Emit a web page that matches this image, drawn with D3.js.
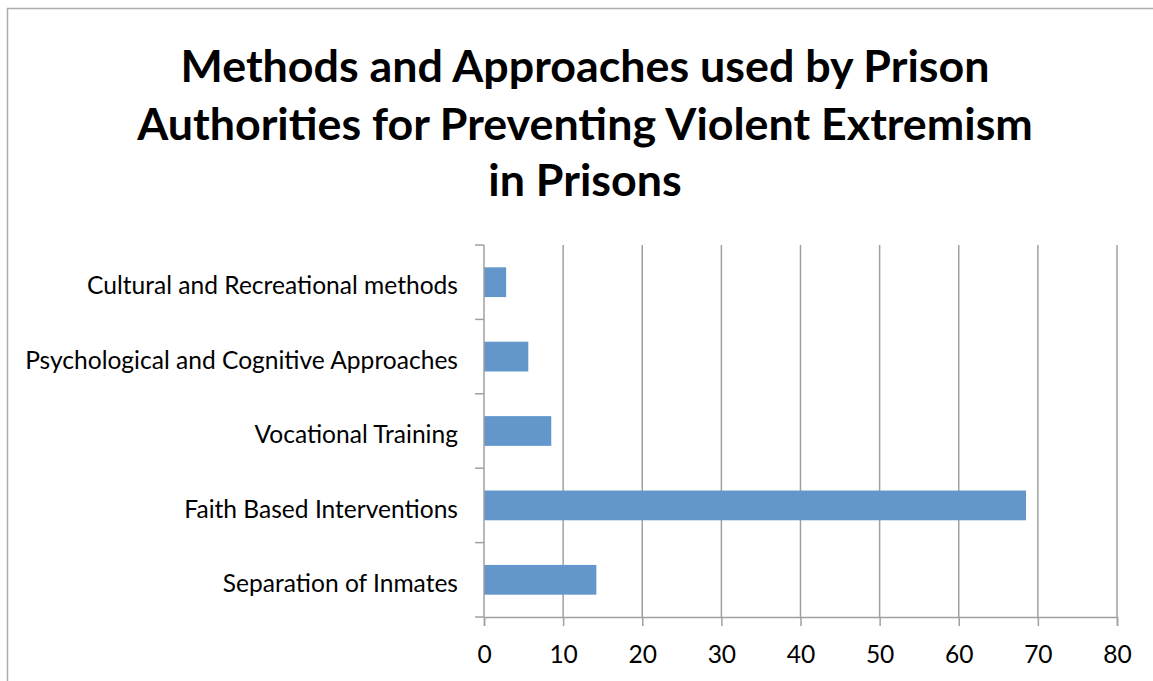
<!DOCTYPE html>
<html>
<head>
<meta charset="utf-8">
<script src="https://cdn.jsdelivr.net/npm/d3@7"></script>
<style>
  body { margin: 0; background: #fff; }
  svg { display: block; }
</style>
</head>
<body>
<div id="chart"></div>
<script>
// data
const categories = ["Cultural and Recreational methods", "Psychological and Cognitive Approaches",
                    "Vocational Training", "Faith Based Interventions", "Separation of Inmates"];
const values = [2.8, 5.6, 8.5, 68.5, 14.2];
const xTicks = [0, 10, 20, 30, 40, 50, 60, 70, 80];
const titleLines = ["Methods and Approaches used by Prison",
                    "Authorities for Preventing Violent Extremism",
                    "in Prisons"];

const W = 1153, H = 681;
const margin = {top: 245, right: 36, bottom: 64, left: 484};
const width = 1117 - margin.left, height = 617 - margin.top;
const font = "Lato, 'Open Sans', sans-serif";

const svg = d3.select("#chart").append("svg")
    .attr("width", W).attr("height", H);

// outer frame
svg.append("rect")
    .attr("x", 7.5).attr("y", 8.5)
    .attr("width", W + 20).attr("height", H + 20)
    .attr("fill", "none").attr("stroke", "#acacac").attr("stroke-width", 1.5);

function measure(t) {
  const tmp = svg.append("text").style("font-family", font).style("font-weight", "bold")
      .style("font-size", "40px").text(t);
  const w = tmp.node().getComputedTextLength();
  tmp.remove();
  return w;
}

// title, sized so the widest line matches the picture
const titleSize = 40 * 896 / measure(titleLines[1]);
const titleY = [82, 140, 196];
titleLines.forEach((t, i) => {
  svg.append("text")
      .attr("x", 585).attr("y", titleY[i])
      .attr("text-anchor", "middle")
      .style("font-family", font).style("font-weight", "bold")
      .style("font-size", titleSize + "px").attr("fill", "#000")
      .text(t);
});

const g = svg.append("g").attr("transform", `translate(${margin.left},${margin.top})`);

const x = d3.scaleLinear().domain([0, 80]).range([0, width]);
const y = d3.scaleBand().domain(categories).range([0, height]).paddingInner(0.6).paddingOuter(0.3);

// gridlines
g.selectAll("line.grid").data(xTicks.slice(1))
  .enter().append("line")
    .attr("class", "grid")
    .attr("x1", d => x(d)).attr("x2", d => x(d))
    .attr("y1", 0).attr("y2", height)
    .attr("stroke", "#a0a0a0").attr("stroke-width", 1.5);

// bars
g.selectAll("rect.bar").data(values)
  .enter().append("rect")
    .attr("class", "bar")
    .attr("x", x(0))
    .attr("y", (d, i) => y(categories[i]))
    .attr("width", d => x(d) - x(0))
    .attr("height", y.bandwidth())
    .attr("fill", "#6397cc");

// x axis
const xAxis = g.append("g")
    .attr("transform", `translate(0,${height})`)
    .call(d3.axisBottom(x).tickValues(xTicks).tickSize(9).tickPadding(20));
xAxis.select(".domain").attr("stroke", "#a0a0a0").attr("stroke-width", 1.5);
xAxis.selectAll(".tick line").attr("stroke", "#a0a0a0").attr("stroke-width", 1.5);
xAxis.selectAll(".tick text").style("font-family", font).style("font-size", "22px").attr("fill", "#000");

// y axis: ticks sit between categories
const step = height / categories.length;
const yAxisG = g.append("g");
yAxisG.append("line").attr("x1", 0).attr("x2", 0).attr("y1", 0).attr("y2", height)
    .attr("stroke", "#a0a0a0").attr("stroke-width", 1.5);
yAxisG.selectAll("line.yt").data(d3.range(categories.length + 1))
  .enter().append("line")
    .attr("class", "yt")
    .attr("x1", -9).attr("x2", 0)
    .attr("y1", d => d * step).attr("y2", d => d * step)
    .attr("stroke", "#a0a0a0").attr("stroke-width", 1.5);

const labels = yAxisG.selectAll("text.cat").data(categories)
  .enter().append("text")
    .attr("class", "cat")
    .attr("x", -26)
    .attr("y", d => y(d) + y.bandwidth() / 2)
    .attr("dy", "0.5em")
    .attr("text-anchor", "end")
    .style("font-family", font).style("font-size", "22px").attr("fill", "#000")
    .text(d => d);
// fit label size so the longest label spans what the picture shows
const longest = labels.filter((d, i) => i === 1).node().getComputedTextLength();
const labelSize = 22 * 433 / longest;
labels.style("font-size", labelSize + "px");
xAxis.selectAll(".tick text").style("font-size", labelSize + "px");
</script>
</body>
</html>
